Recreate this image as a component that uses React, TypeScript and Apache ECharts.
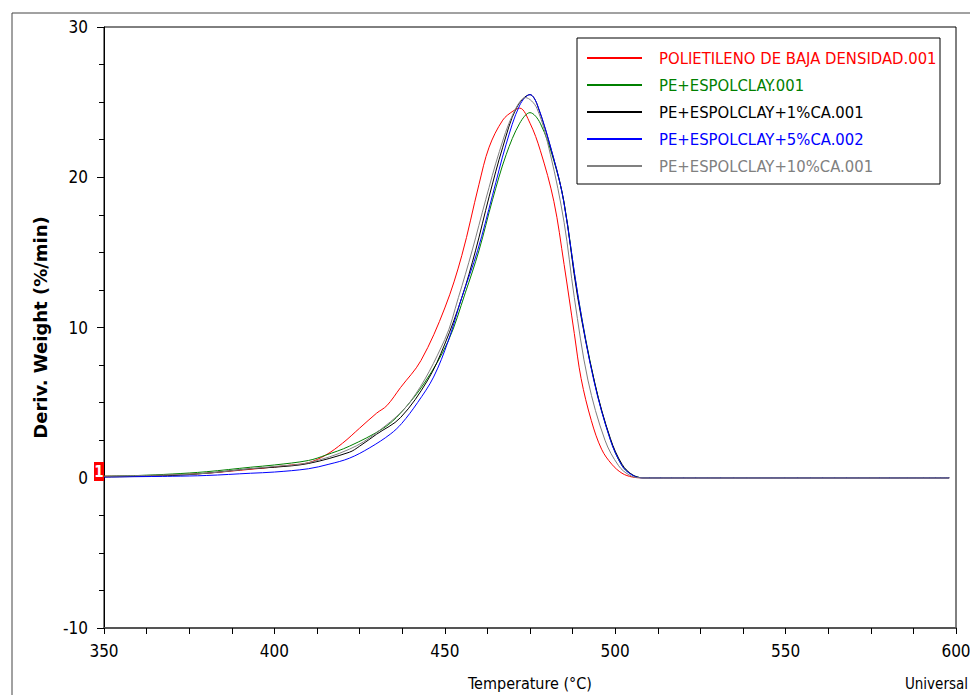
import React, { useEffect, useRef } from "react";
import * as echarts from "echarts";

const seriesNames = [
  "POLIETILENO DE BAJA DENSIDAD.001",
  "PE+ESPOLCLAY.001",
  "PE+ESPOLCLAY+1%CA.001",
  "PE+ESPOLCLAY+5%CA.002",
  "PE+ESPOLCLAY+10%CA.001",
];
const seriesColors = ["#ff0000", "#008000", "#000000", "#0000ff", "#808080"];

const redT = [350, 360, 370, 380, 390, 400, 405, 410, 415, 420, 425, 430, 433, 437, 443, 450, 455, 460, 463, 467, 470, 472, 475, 478, 482, 485, 488, 490, 493, 496, 499, 502, 505, 508, 598];
const redV = [0.1, 0.12, 0.2, 0.3, 0.5, 0.72, 0.85, 1.0, 1.5, 2.3, 3.3, 4.3, 4.8, 6.0, 7.8, 11.3, 14.8, 19.5, 22.0, 23.8, 24.4, 24.6, 23.6, 21.8, 18.4, 14.2, 9.6, 6.6, 3.8, 1.9, 0.9, 0.3, 0.05, 0, 0];

const greenT = [350, 360, 370, 380, 393, 400, 410, 415, 422, 432, 437, 444, 451, 456, 460, 464, 468, 472, 475, 478, 482, 485, 489, 494, 498.5, 502, 505, 508, 598];
const greenV = [0.1, 0.15, 0.25, 0.4, 0.7, 0.85, 1.15, 1.5, 2.1, 3.3, 4.3, 6.3, 9.1, 12.3, 15.1, 18.5, 21.5, 23.6, 24.3, 23.6, 21.1, 18.3, 12.2, 6.3, 2.6, 0.8, 0.2, 0, 0];

const blackT = [350, 370, 380, 393, 400, 410, 422, 425, 430, 437, 445, 450, 455, 459, 463, 467, 471, 475, 477, 482, 485, 489, 494, 498.6, 502, 505, 508, 598];
const blackV = [0.05, 0.15, 0.3, 0.6, 0.7, 0.95, 1.7, 2.1, 2.9, 4.0, 6.5, 8.9, 12.0, 15.1, 18.7, 22.0, 24.6, 25.5, 24.9, 21.2, 18.3, 12.0, 6.3, 2.6, 0.9, 0.2, 0, 0];

const blueT = [350, 370, 380, 393, 400, 410, 416, 422, 428, 434, 437.3, 442, 446.7, 451, 455, 459.6, 464, 468, 472, 475, 477.2, 481.9, 484.8, 489.3, 493.7, 498.6, 502, 504.5, 507.5, 598];
const blueV = [0.05, 0.1, 0.15, 0.3, 0.38, 0.6, 0.9, 1.3, 2.0, 2.9, 3.6, 5.0, 6.7, 9.1, 12.0, 15.1, 18.8, 22.2, 24.8, 25.5, 24.8, 21.3, 18.5, 11.8, 6.5, 2.5, 0.8, 0.25, 0, 0];

const grayT = [350, 370, 380, 393, 400, 410, 422, 430, 440, 450, 454, 458, 462, 466, 470, 473.7, 477, 481, 485, 488, 492, 497, 501, 504, 507, 598];
const grayV = [0.1, 0.2, 0.3, 0.6, 0.75, 1.0, 1.9, 3.0, 5.1, 9.2, 12.0, 15.1, 18.5, 21.7, 24.2, 25.3, 24.6, 21.5, 17.0, 12.0, 6.5, 2.5, 0.8, 0.2, 0, 0];

const allT = [redT, greenT, blackT, blueT, grayT];
const allV = [redV, greenV, blackV, blueV, grayV];

const xTicks = { min: 350, max: 600, interval: 50 };
const yTicks = { min: -10, max: 30, interval: 10 };

const FONT = "'Liberation Sans Narrow', 'Arial Narrow', 'DejaVu Sans Condensed', sans-serif";

export default function App() {
  const ref = useRef<HTMLDivElement>(null);
  useEffect(() => {
    document.body.style.margin = "0";
    if (!ref.current) return;
    const chart = echarts.init(ref.current, null, { renderer: "svg" });

    const series = seriesNames.map((name, i) => ({
      name,
      type: "line",
      data: allT[i].map((t, j) => [t, allV[i][j]]),
      showSymbol: false,
      smooth: 0.35,
      lineStyle: { color: seriesColors[i], width: 1 },
      itemStyle: { color: seriesColors[i] },
      z: 2 + i,
    }));

    const legendX = 577, legendY = 38, rowH = 27;
    const legendGraphics: any[] = [
      {
        type: "rect",
        shape: { x: legendX, y: legendY, width: 363, height: 146 },
        style: { fill: "#fff", stroke: "#000", lineWidth: 1 },
        z: 10,
      },
    ];
    seriesNames.forEach((name, i) => {
      const cy = legendY + 20 + i * rowH;
      legendGraphics.push({
        type: "line",
        shape: { x1: legendX + 10, y1: cy, x2: legendX + 65, y2: cy },
        style: { stroke: seriesColors[i], lineWidth: 2 },
        z: 11,
      });
      legendGraphics.push({
        type: "text",
        x: legendX + 82,
        y: cy,
        style: {
          text: name,
          fill: seriesColors[i],
          font: `16.5px ${FONT}`,
          textVerticalAlign: "middle",
          textAlign: "left",
        },
        z: 11,
      });
    });

    chart.setOption({
      animation: false,
      backgroundColor: "#fff",
      grid: {
        left: 104,
        top: 27,
        right: 14,
        bottom: 67,
        show: true,
        borderColor: "#000",
        borderWidth: 1,
        backgroundColor: "transparent",
        outerBoundsMode: "none",
        containLabel: false,
      },
      xAxis: {
        type: "value",
        min: xTicks.min,
        max: xTicks.max,
        interval: xTicks.interval,
        name: "Temperature (°C)",
        nameLocation: "middle",
        nameGap: 47,
        nameTextStyle: { fontFamily: FONT, fontSize: 16, color: "#000" },
        axisLine: { onZero: false, lineStyle: { color: "#555", width: 2 } },
        axisTick: { show: true, length: 6, lineStyle: { color: "#000" } },
        minorTick: { show: true, splitNumber: 4, length: 6, lineStyle: { color: "#000" } },
        splitLine: { show: false },
        axisLabel: { fontFamily: FONT, fontSize: 17, color: "#000", margin: 14 },
      },
      yAxis: {
        type: "value",
        min: yTicks.min,
        max: yTicks.max,
        interval: yTicks.interval,
        name: "Deriv. Weight (%/min)",
        nameLocation: "middle",
        nameGap: 55,
        nameRotate: 90,
        nameTextStyle: { fontFamily: "'DejaVu Sans', sans-serif", fontSize: 18, color: "#000", fontWeight: "bold" },
        axisLine: { show: true, lineStyle: { color: "#000", width: 1 } },
        axisTick: { show: true, length: 7, lineStyle: { color: "#000" } },
        minorTick: { show: true, splitNumber: 4, length: 5, lineStyle: { color: "#000" } },
        splitLine: { show: false },
        axisLabel: { fontFamily: FONT, fontSize: 17, color: "#000", margin: 16 },
      },
      series,
      graphic: [
        {
          type: "line",
          shape: { x1: 12, y1: 13, x2: 970, y2: 13 },
          style: { stroke: "#444", lineWidth: 1 },
        },
        {
          type: "line",
          shape: { x1: 12, y1: 13, x2: 12, y2: 695 },
          style: { stroke: "#444", lineWidth: 1 },
        },
        {
          type: "rect",
          shape: { x: 94, y: 462, width: 10, height: 19 },
          style: { fill: "#ff0000" },
          z: 20,
        },
        {
          type: "text",
          x: 99,
          y: 471.5,
          style: {
            text: "1",
            fill: "#fff",
            font: `bold 15px ${FONT}`,
            textAlign: "center",
            textVerticalAlign: "middle",
          },
          z: 21,
        },
        {
          type: "text",
          x: 968,
          y: 684,
          style: {
            text: "Universal",
            fill: "#000",
            font: `15px ${FONT}`,
            textAlign: "right",
            textVerticalAlign: "middle",
          },
        },
        ...legendGraphics,
      ],
    });
    return () => chart.dispose();
  }, []);
  return <div ref={ref} style={{ width: 970, height: 695 }} />;
}
